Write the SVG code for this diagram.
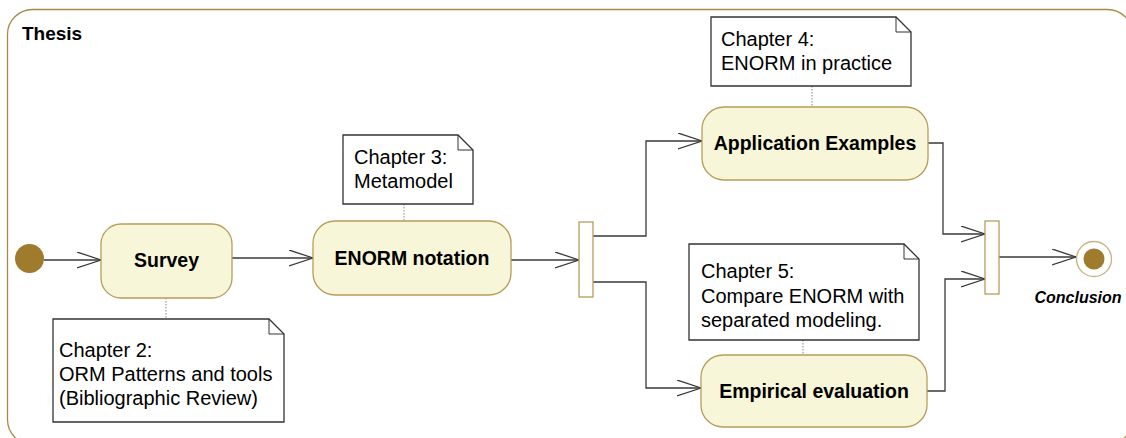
<svg xmlns="http://www.w3.org/2000/svg" width="1126" height="438" viewBox="0 0 1126 438">
  <style>
    .frame { fill: #ffffff; stroke: #a88a48; stroke-width: 1.3; }
    .action { fill: #f7f6d8; stroke: #b99c5a; stroke-width: 1.3; }
    .bar { fill: #ffffff; stroke: #b99c5a; stroke-width: 1.3; }
    .note { fill: #ffffff; stroke: #333333; stroke-width: 1.3; }
    .fold { fill: none; stroke: #333333; stroke-width: 1; }
    .flow { fill: none; stroke: #3a3a3a; stroke-width: 1.3; }
    .anchor { fill: none; stroke: #9a9a9a; stroke-width: 1.2; stroke-dasharray: 1.5 1.5; }
    .lbl { font-family: "Liberation Sans", Arial, sans-serif; font-size: 19.5px; font-weight: bold; fill: #000000; text-anchor: middle; }
    .ntxt { font-family: "Liberation Sans", Arial, sans-serif; font-size: 20px; fill: #000000; }
    .title { font-family: "Liberation Sans", Arial, sans-serif; font-size: 19px; font-weight: bold; fill: #000000; }
    .final-lbl { font-family: "Liberation Sans", Arial, sans-serif; font-size: 16px; font-weight: bold; font-style: italic; fill: #000000; text-anchor: middle; }
  </style>
  <defs>
    <marker id="open-arrow" markerUnits="userSpaceOnUse" markerWidth="26" markerHeight="18" refX="24" refY="8" orient="auto">
      <path d="M0,0 L24,8 L0,16" fill="none" stroke="#3a3a3a" stroke-width="1.3"/>
    </marker>
  </defs>

  <!-- activity frame -->
  <g id="frame-thesis">
    <rect class="frame" x="7.5" y="9.5" width="1125" height="435" rx="25" ry="25"/>
    <text class="title" x="22" y="40">Thesis</text>
  </g>

  <!-- control flows -->
  <g id="connectors">
    <path class="flow" d="M44,260 L101,260" marker-end="url(#open-arrow)"/>
    <path class="flow" d="M232,258 L313,258" marker-end="url(#open-arrow)"/>
    <path class="flow" d="M511,260 L579,260" marker-end="url(#open-arrow)"/>
    <path class="flow" d="M593,236 L646,236 L646,141 L702,141" marker-end="url(#open-arrow)"/>
    <path class="flow" d="M593,282 L646,282 L646,388 L701,388" marker-end="url(#open-arrow)"/>
    <path class="flow" d="M928,143 L943,143 L943,234 L985,234" marker-end="url(#open-arrow)"/>
    <path class="flow" d="M927,391 L945,391 L945,279 L985,279" marker-end="url(#open-arrow)"/>
    <path class="flow" d="M999,257 L1076,257" marker-end="url(#open-arrow)"/>
    <!-- note anchors -->
    <path class="anchor" d="M166,298 L166,319"/>
    <path class="anchor" d="M404,204 L404,221"/>
    <path class="anchor" d="M812,86 L812,107"/>
    <path class="anchor" d="M803,340 L803,355"/>
  </g>

  <g id="initial">
    <circle cx="29.5" cy="258.5" r="14.5" fill="#9e7b2d"/>
  </g>

  <g id="survey">
    <rect class="action" x="101" y="224" width="131" height="74" rx="20" ry="20"/>
    <text class="lbl" x="166.5" y="267">Survey</text>
  </g>

  <g id="enorm-notation">
    <rect class="action" x="313" y="221" width="198" height="74" rx="22" ry="22"/>
    <text class="lbl" x="412" y="265">ENORM notation</text>
  </g>

  <g id="fork">
    <rect class="bar" x="579" y="222" width="14" height="75"/>
  </g>

  <g id="application-examples">
    <rect class="action" x="702" y="107" width="226" height="73" rx="22" ry="22"/>
    <text class="lbl" x="815" y="150">Application Examples</text>
  </g>

  <g id="empirical-evaluation">
    <rect class="action" x="701" y="355" width="226" height="72" rx="22" ry="22"/>
    <text class="lbl" x="814" y="398">Empirical evaluation</text>
  </g>

  <g id="join">
    <rect class="bar" x="985" y="221" width="14" height="73"/>
  </g>

  <g id="final">
    <circle cx="1094" cy="259" r="17.5" fill="#ffffff" stroke="#c9b282" stroke-width="1.3"/>
    <circle cx="1094" cy="259" r="10.5" fill="#9e7b2d"/>
    <text class="final-lbl" x="1078" y="303">Conclusion</text>
  </g>

  <g id="note-chapter2">
    <path class="note" d="M53,319 L269,319 L284,334 L284,422 L53,422 Z"/>
    <path class="fold" d="M269,319 L269,334 L284,334"/>
    <text class="ntxt" x="59" y="357">Chapter 2:</text>
    <text class="ntxt" x="59" y="381">ORM Patterns and tools</text>
    <text class="ntxt" x="59" y="405">(Bibliographic Review)</text>
  </g>

  <g id="note-chapter3">
    <path class="note" d="M343,135 L458,135 L473,150 L473,204 L343,204 Z"/>
    <path class="fold" d="M458,135 L458,150 L473,150"/>
    <text class="ntxt" x="354" y="164">Chapter 3:</text>
    <text class="ntxt" x="354" y="188">Metamodel</text>
  </g>

  <g id="note-chapter4">
    <path class="note" d="M711,17 L896,17 L911,32 L911,86 L711,86 Z"/>
    <path class="fold" d="M896,17 L896,32 L911,32"/>
    <text class="ntxt" x="721" y="46">Chapter 4:</text>
    <text class="ntxt" x="721" y="70">ENORM in practice</text>
  </g>

  <g id="note-chapter5">
    <path class="note" d="M689,244 L904,244 L919,259 L919,340 L689,340 Z"/>
    <path class="fold" d="M904,244 L904,259 L919,259"/>
    <text class="ntxt" x="701" y="278">Chapter 5:</text>
    <text class="ntxt" x="701" y="303">Compare ENORM with</text>
    <text class="ntxt" x="701" y="327">separated modeling.</text>
  </g>
</svg>
